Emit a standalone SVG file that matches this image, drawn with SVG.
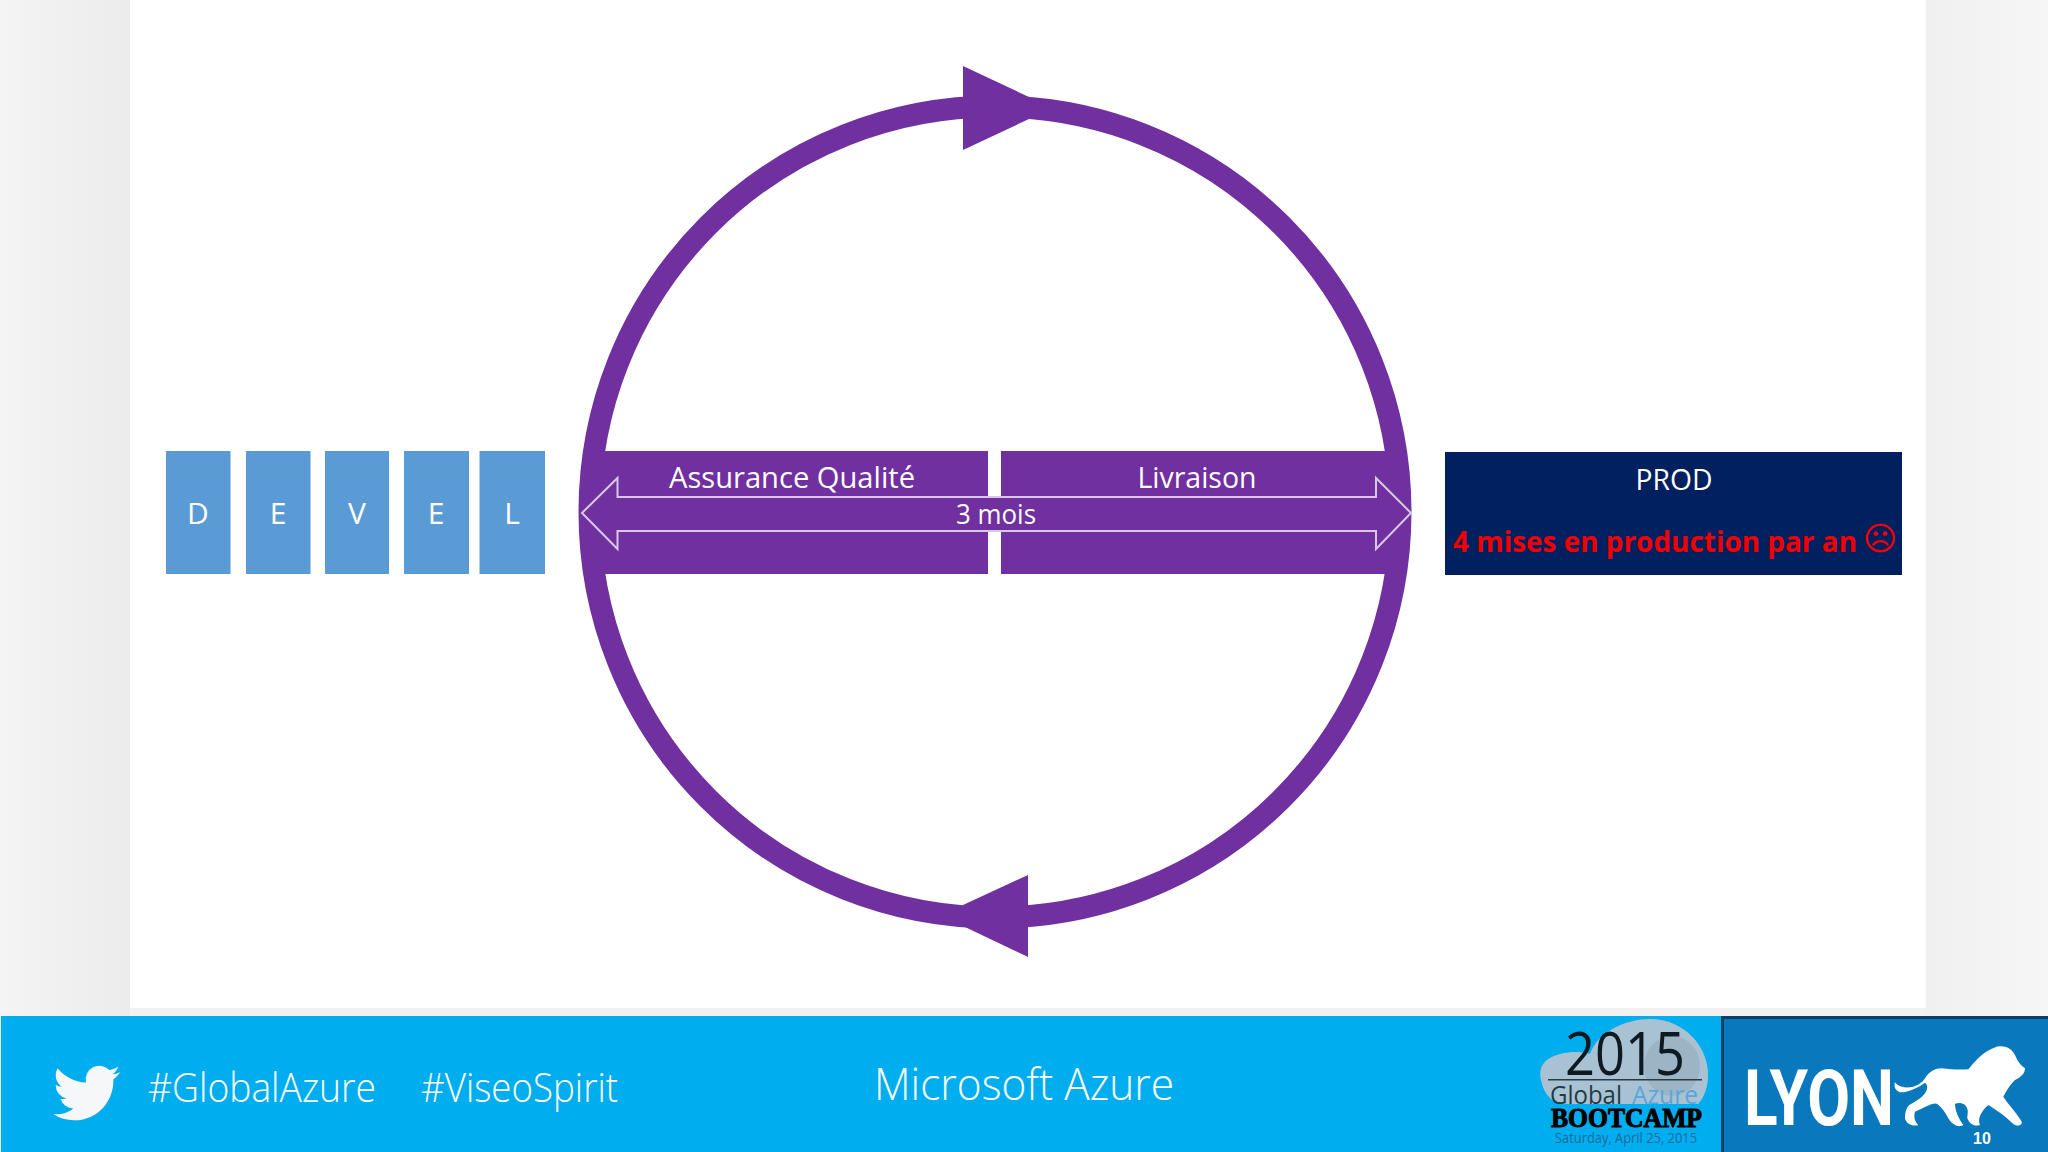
<svg xmlns="http://www.w3.org/2000/svg" width="2048" height="1152" viewBox="0 0 2048 1152">
<defs>
<style>
.t{font-family:"Open Sans","Noto Sans","Liberation Sans",sans-serif;fill:#fff}
.l{font-weight:300}
.box{fill:#5b9bd5}
.band{fill:#7030a0}
.ring{fill:none;stroke:#7030a0;stroke-width:22}
.head{fill:#7030a0}
.m{text-anchor:middle}
</style>
<linearGradient id="sideL" x1="0" x2="1" y1="0" y2="0"><stop offset="0" stop-color="#f4f4f4"/><stop offset="1" stop-color="#ececec"/></linearGradient>
<linearGradient id="sideR" x1="0" x2="1" y1="0" y2="0"><stop offset="0" stop-color="#f0f0f0"/><stop offset="1" stop-color="#f6f6f6"/></linearGradient>
</defs>
<rect width="2048" height="1152" fill="#f1f1f1"/>
<rect x="0" y="0" width="130" height="1016" fill="url(#sideL)"/>
<rect x="1925" y="0" width="123" height="1016" fill="url(#sideR)"/>
<rect x="130" y="0" width="1796" height="1008" fill="#fff"/>

<g id="connectors">
<circle class="ring" cx="995" cy="512" r="405.500"/>
<polygon class="head" points="963,66 1029,97 1029,119 963,150"/>
<polygon class="head" points="1028,875 963,905 965,927 1028,957"/>
</g>

<g id="node-assurance"><rect class="band" x="595" y="451" width="393" height="123"/>
<text class="t m" x="792" y="488" font-size="29" textLength="246" lengthAdjust="spacingAndGlyphs">Assurance Qualité</text></g>
<g id="node-livraison"><rect class="band" x="1001" y="451" width="394" height="123"/>
<text class="t m" x="1197" y="488" font-size="29" textLength="119" lengthAdjust="spacingAndGlyphs">Livraison</text></g>
<g id="node-3mois">
<polygon points="582,513 617.5,478 617.5,497 1376,497 1376,478 1411,513 1376,549 1376,531 617.5,531 617.5,549" fill="#7030a0" stroke="#d8c8e6" stroke-width="2"/>
<text class="t m" x="996" y="524" font-size="28" textLength="80" lengthAdjust="spacingAndGlyphs">3 mois</text></g>

<g id="node-D"><rect class="box" x="166" y="451" width="64.500" height="123"/><text class="t m" x="198" y="524" font-size="30">D</text></g>
<g id="node-E1"><rect class="box" x="246" y="451" width="64.500" height="123"/><text class="t m" x="278" y="524" font-size="30">E</text></g>
<g id="node-V"><rect class="box" x="325" y="451" width="64" height="123"/><text class="t m" x="357" y="524" font-size="30">V</text></g>
<g id="node-E2"><rect class="box" x="404" y="451" width="65" height="123"/><text class="t m" x="436" y="524" font-size="30">E</text></g>
<g id="node-L"><rect class="box" x="479.500" y="451" width="65.500" height="123"/><text class="t m" x="512" y="524" font-size="30">L</text></g>

<g id="node-prod"><rect x="1445" y="452" width="457" height="123" fill="#002060"/>
<text class="t m" x="1674" y="490" font-size="29" textLength="77" lengthAdjust="spacingAndGlyphs">PROD</text>
<text class="t" x="1453" y="552" font-size="29" font-weight="700" style="fill:#f00000" textLength="404" lengthAdjust="spacingAndGlyphs">4 mises en production par an</text>
<text x="1880" y="550" font-size="33" text-anchor="middle" fill="#f00000" font-family="'DejaVu Sans',sans-serif">☹</text></g>

<g id="footer">
<rect x="1" y="1016" width="2047" height="136" fill="#00adef"/>
<path fill="#f5f7f8" transform="translate(53 1059.400) scale(2.800)" d="M23.953 4.57a10 10 0 01-2.825.775 4.958 4.958 0 002.163-2.723c-.951.555-2.005.959-3.127 1.184a4.92 4.92 0 00-8.384 4.482C7.69 8.095 4.067 6.13 1.64 3.162a4.822 4.822 0 00-.666 2.475c0 1.71.87 3.213 2.188 4.096a4.904 4.904 0 01-2.228-.616v.06a4.923 4.923 0 003.946 4.827 4.996 4.996 0 01-2.212.085 4.936 4.936 0 004.604 3.417 9.867 9.867 0 01-6.102 2.105c-.39 0-.779-.023-1.17-.067a13.995 13.995 0 007.557 2.209c9.053 0 13.998-7.496 13.998-13.985 0-.21 0-.42-.015-.63A9.935 9.935 0 0024 4.59z"/>
<text class="t l" x="148" y="1102" font-size="40" textLength="228" lengthAdjust="spacingAndGlyphs">#GlobalAzure</text>
<text class="t l" x="421" y="1102" font-size="40" textLength="197" lengthAdjust="spacingAndGlyphs">#ViseoSpirit</text>
<text class="t l" x="874" y="1100" font-size="44" textLength="300" lengthAdjust="spacingAndGlyphs">Microsoft Azure</text>
</g>

<g id="logo-bootcamp">
<path fill="#a8c2d4" d="M1541 1080C1538 1066 1545 1058 1560 1054C1572 1051 1585 1052 1590 1054C1598 1032 1625 1019 1650 1019C1685 1019 1710 1048 1708 1078C1707 1092 1702 1100 1698 1104L1560 1104C1548 1100 1543 1090 1541 1080Z"/>
<ellipse cx="1672" cy="1066" rx="28" ry="30" fill="#93a9b6" opacity=".55"/>
<text x="1625" y="1075" font-size="60" text-anchor="middle" fill="#0d1a22" font-family="'Open Sans',sans-serif" textLength="120" lengthAdjust="spacingAndGlyphs">2015</text>
<rect x="1548" y="1079" width="154" height="1.500" fill="#2a3a44"/>
<text x="1550" y="1104" font-size="25" fill="#223a44" font-family="'Open Sans',sans-serif" textLength="72" lengthAdjust="spacingAndGlyphs">Global</text>
<text x="1632" y="1104" font-size="25" fill="#5aa6dc" font-family="'Open Sans',sans-serif" textLength="66" lengthAdjust="spacingAndGlyphs">Azure</text>
<text x="1551" y="1127" font-size="27" fill="#000" stroke="#000" stroke-width="1" font-weight="700" font-family="'Liberation Serif',serif" textLength="151" lengthAdjust="spacingAndGlyphs">BOOTCAMP</text>
<text x="1555" y="1143" font-size="14" fill="#1c6c9c" font-family="'Open Sans',sans-serif" textLength="142" lengthAdjust="spacingAndGlyphs">Saturday, April 25, 2015</text>
</g>

<g id="logo-lyon">
<rect x="1721" y="1016" width="327" height="136" fill="#0a3f66"/>
<rect x="1724" y="1019" width="324" height="133" fill="#0a78bd"/>
<text x="1744" y="1125" font-size="78" font-weight="700" fill="#fff" font-family="Roboto,'Liberation Sans',sans-serif" textLength="150" lengthAdjust="spacingAndGlyphs">LYON</text>
<path fill="#fff" transform="translate(1850 1030) scale(.3333)" d="M135 157C145 172 165 175 190 170C205 165 220 155 228 140C240 125 255 115 275 115C300 118 330 120 355 118C370 100 395 65 440 50C465 45 485 55 495 75C503 95 512 105 525 115C525 130 515 140 495 150C480 165 470 180 460 200C480 230 505 255 515 275C518 287 500 290 490 282C470 262 440 240 415 225C400 238 380 262 390 285C375 290 360 285 352 265C352 250 358 240 345 225C335 218 322 218 315 222C315 240 325 265 340 285C330 292 310 290 295 265C285 245 275 232 262 222C250 215 225 232 195 245C190 262 195 275 205 285C190 290 170 285 165 265C165 245 170 232 178 225C195 215 215 205 225 190C235 175 232 162 225 158C205 172 175 188 150 187C138 182 130 172 135 157Z"/>
<text x="1982" y="1144" font-size="16" font-weight="700" text-anchor="middle" fill="#fff" font-family="'Liberation Sans',sans-serif">10</text>
</g>
</svg>
